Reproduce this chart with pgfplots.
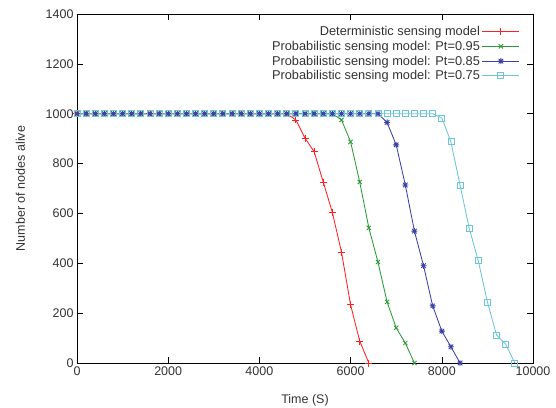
\documentclass[border=0pt]{standalone}
\usepackage{pgfplots}
\pgfplotsset{compat=1.18}
\usepackage{fontspec}
\setmainfont{Liberation Sans}
\definecolor{gred}{HTML}{FF2020}
\definecolor{ggreen}{HTML}{2A9A36}
\definecolor{gblue}{HTML}{3A40A6}
\definecolor{gcyan}{HTML}{6CC6D6}
\pgfdeclareplotmark{pstar}{%
  \pgfpathmoveto{\pgfqpoint{-\pgfplotmarksize}{0pt}}\pgfpathlineto{\pgfqpoint{\pgfplotmarksize}{0pt}}%
  \pgfpathmoveto{\pgfqpoint{0pt}{-\pgfplotmarksize}}\pgfpathlineto{\pgfqpoint{0pt}{\pgfplotmarksize}}%
  \pgfpathmoveto{\pgfqpoint{-0.75\pgfplotmarksize}{-0.75\pgfplotmarksize}}\pgfpathlineto{\pgfqpoint{0.75\pgfplotmarksize}{0.75\pgfplotmarksize}}%
  \pgfpathmoveto{\pgfqpoint{-0.75\pgfplotmarksize}{0.75\pgfplotmarksize}}\pgfpathlineto{\pgfqpoint{0.75\pgfplotmarksize}{-0.75\pgfplotmarksize}}%
  \pgfusepathqstroke}
\begin{document}
\begin{tikzpicture}
\useasboundingbox (-77pt,-44pt) rectangle (479pt,363pt);
\begin{axis}[
  at={(0pt,0pt)}, anchor=south west,
  scale only axis, width=456pt, height=349pt,
  xmin=0, xmax=10000, ymin=0, ymax=1400,
  xtick={0,2000,...,10000}, ytick={0,200,...,1400},
  tick align=inside, major tick length=6pt,
  tick style={black, line width=0.6pt},
  axis line style={line width=0.6pt},
  scaled x ticks=false,
  /pgf/number format/assume math mode=true,
  /pgf/number format/set thousands separator={},
  tick label style={font=\fontsize{12.5}{14}\selectfont, text=black!80},
  label style={font=\fontsize{12.5}{14}\selectfont, text=black!80},
  xlabel={Time (S)}, ylabel={Number of nodes alive},
  xlabel style={at={(axis description cs:0.5,0)}, anchor=center, yshift=-37pt},
  ylabel style={at={(axis description cs:-0.124,0.5)}, anchor=center, rotate=0},
  legend style={draw=none, fill=none, at={(456pt-13pt,349pt-10pt)}, anchor=north east,
    font=\fontsize{12.8}{15}\selectfont, row sep=0pt, inner sep=0pt},
  legend cell align=right,
  legend plot pos=right,
  legend image code/.code={\draw[mark repeat=2,mark phase=2,#1] plot coordinates {(0pt,0pt)(18.5pt,0pt)(37pt,0pt)};},
  every axis plot/.append style={line width=0.85pt},
]
\addplot[color=gred, mark=+, mark size=3.5pt] coordinates {
(0,1000)(200,1000)(400,1000)(600,1000)(800,1000)(1000,1000)(1200,1000)(1400,1000)(1600,1000)(1800,1000)
(2000,1000)(2200,1000)(2400,1000)(2600,1000)(2800,1000)(3000,1000)(3200,1000)(3400,1000)(3600,1000)(3800,1000)
(4000,1000)(4200,1000)(4400,1000)(4600,1000)
(4800,975)(5000,902)(5200,848)(5400,726)(5600,604)(5800,445)(6000,233)(6200,88)(6400,0)};
\addlegendentry{\textcolor{black!80}{Deterministic sensing model}}
\addplot[color=ggreen, mark=x, mark size=3pt] coordinates {
(0,1000)(200,1000)(400,1000)(600,1000)(800,1000)(1000,1000)(1200,1000)(1400,1000)(1600,1000)(1800,1000)
(2000,1000)(2200,1000)(2400,1000)(2600,1000)(2800,1000)(3000,1000)(3200,1000)(3400,1000)(3600,1000)(3800,1000)
(4000,1000)(4200,1000)(4400,1000)(4600,1000)(4800,1000)(5000,1000)(5200,1000)(5400,1000)(5600,1000)
(5800,975)(6000,887)(6200,726)(6400,542)(6600,405)(6800,245)(7000,141)(7200,80)(7400,0)};
\addlegendentry{\textcolor{black!80}{Probabilistic sensing model: Pt=0.95}}
\addplot[color=gblue, mark=pstar, mark size=3pt] coordinates {
(0,1000)(200,1000)(400,1000)(600,1000)(800,1000)(1000,1000)(1200,1000)(1400,1000)(1600,1000)(1800,1000)
(2000,1000)(2200,1000)(2400,1000)(2600,1000)(2800,1000)(3000,1000)(3200,1000)(3400,1000)(3600,1000)(3800,1000)
(4000,1000)(4200,1000)(4400,1000)(4600,1000)(4800,1000)(5000,1000)(5200,1000)(5400,1000)(5600,1000)(5800,1000)
(6000,1000)(6200,1000)(6400,1000)(6600,1000)
(6800,965)(7000,875)(7200,714)(7400,529)(7600,390)(7800,229)(8000,128)(8200,65)(8400,0)};
\addlegendentry{\textcolor{black!80}{Probabilistic sensing model: Pt=0.85}}
\addplot[color=gcyan, mark=square, mark size=3pt] coordinates {
(0,1000)(200,1000)(400,1000)(600,1000)(800,1000)(1000,1000)(1200,1000)(1400,1000)(1600,1000)(1800,1000)
(2000,1000)(2200,1000)(2400,1000)(2600,1000)(2800,1000)(3000,1000)(3200,1000)(3400,1000)(3600,1000)(3800,1000)
(4000,1000)(4200,1000)(4400,1000)(4600,1000)(4800,1000)(5000,1000)(5200,1000)(5400,1000)(5600,1000)(5800,1000)
(6000,1000)(6200,1000)(6400,1000)(6600,1000)(6800,1000)(7000,1000)(7200,1000)(7400,1000)(7600,1000)(7800,1000)
(8000,983)(8200,887)(8400,714)(8600,541)(8800,410)(9000,245)(9200,112)(9400,76)(9600,0)};
\addlegendentry{\textcolor{black!80}{Probabilistic sensing model: Pt=0.75}}
\end{axis}
\end{tikzpicture}
\end{document}
